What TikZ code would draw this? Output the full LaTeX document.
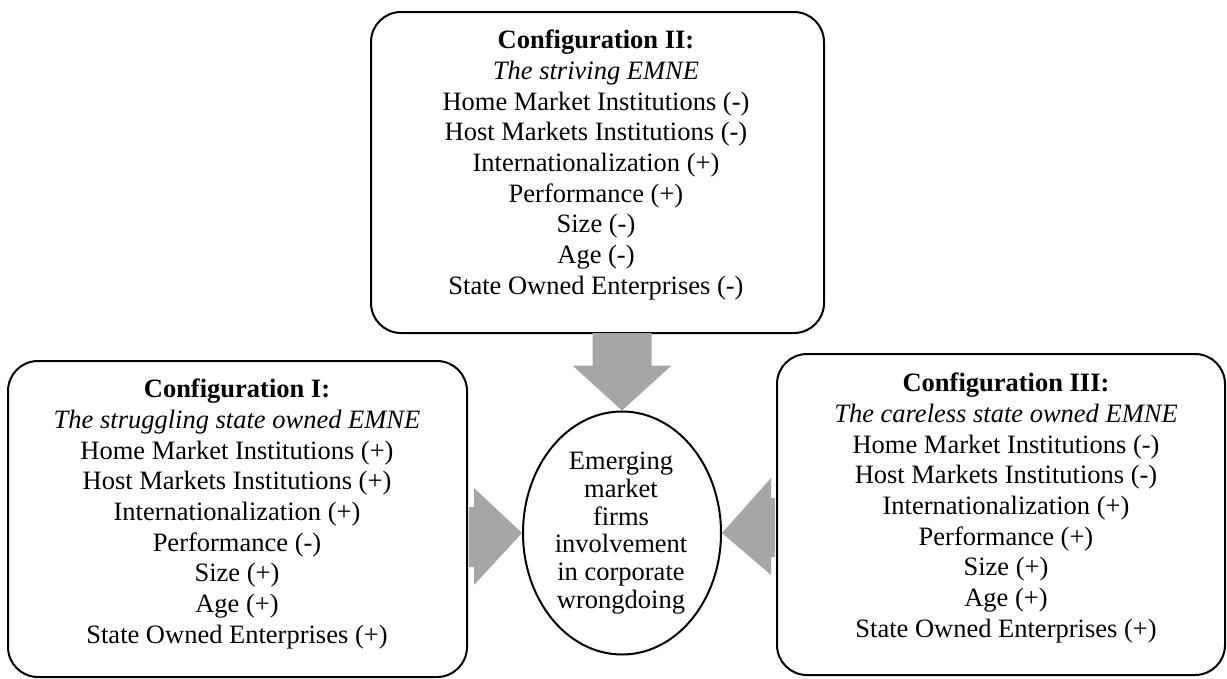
\documentclass[tikz,border=0pt]{standalone}
\usepackage{fontspec}
\setmainfont{Liberation Serif}
\usetikzlibrary{calc,shapes.geometric}
\definecolor{arrowgray}{RGB}{166,166,166}
\begin{document}
\begin{tikzpicture}[x=1pt,y=-1pt,
  box/.style={draw, line width=2pt, rounded corners=30pt, inner sep=0pt},
  txt/.style={align=center, font=\fontsize{26.5}{30.7}\selectfont, inner sep=0pt},
  blk/.style={fill=arrowgray}]
\useasboundingbox (0,0) rectangle (1227,678);

% boxes
\node[box, minimum width=453pt, minimum height=321pt] (top) at (597.5,172.5) {};
\node[box, minimum width=459pt, minimum height=316pt] (left) at (237.5,519) {};
\node[box, minimum width=448pt, minimum height=321pt] (right) at (1001,514.5) {};
\node[draw, ellipse, line width=2pt, minimum width=198pt, minimum height=243pt, inner sep=0pt] (ell) at (622,533) {};

% texts
\node[txt] (toptxt) at (596,165) {\textbf{Configuration II:}\\ \textit{The striving EMNE}\\ Home Market Institutions (-)\\ Host Markets Institutions (-)\\ Internationalization (+)\\ Performance (+)\\ Size (-)\\ Age (-)\\ State Owned Enterprises (-)};
\node[txt] (lefttxt) at (237,514) {\textbf{Configuration I:}\\ \textit{The struggling state owned EMNE}\\ Home Market Institutions (+)\\ Host Markets Institutions (+)\\ Internationalization (+)\\ Performance (-)\\ Size (+)\\ Age (+)\\ State Owned Enterprises (+)};
\node[txt] (righttxt) at (1006,508) {\textbf{Configuration III:}\\ \textit{The careless state owned EMNE}\\ Home Market Institutions (-)\\ Host Markets Institutions (-)\\ Internationalization (+)\\ Performance (+)\\ Size (+)\\ Age (+)\\ State Owned Enterprises (+)};
\node[txt, font=\fontsize{26.5}{27.8}\selectfont] (elltxt) at (621,533) {Emerging\\ market\\ firms\\ involvement\\ in corporate\\ wrongdoing};

% block arrows
\coordinate (ts) at (top.south -| ell.north);
\fill[blk] ($(ts)+(-29.5,-1)$) -- ($(ell.north)+(-29.5,-45)$) -- ($(ell.north)+(-49.5,-45)$) -- (ell.north)
  -- ($(ell.north)+(49.5,-45)$) -- ($(ell.north)+(29.5,-45)$) -- ($(ts)+(29.5,-1)$) -- cycle;

\coordinate (ls) at (left.east |- ell.west);
\fill[blk] ($(ls)+(1,-26)$) -- ($(ell.west)+(-48,-26)$) -- ($(ell.west)+(-48,-45)$) -- (ell.west)
  -- ($(ell.west)+(-48,52)$) -- ($(ell.west)+(-48,34)$) -- ($(ls)+(1,34)$) -- cycle;

\coordinate (rs) at (right.west |- ell.east);
\fill[blk] ($(rs)+(-1,-35)$) -- ($(ell.east)+(49,-35)$) -- ($(ell.east)+(49,-55)$) -- (ell.east)
  -- ($(ell.east)+(49,42)$) -- ($(ell.east)+(49,24)$) -- ($(rs)+(-1,24)$) -- cycle;
\end{tikzpicture}
\end{document}
